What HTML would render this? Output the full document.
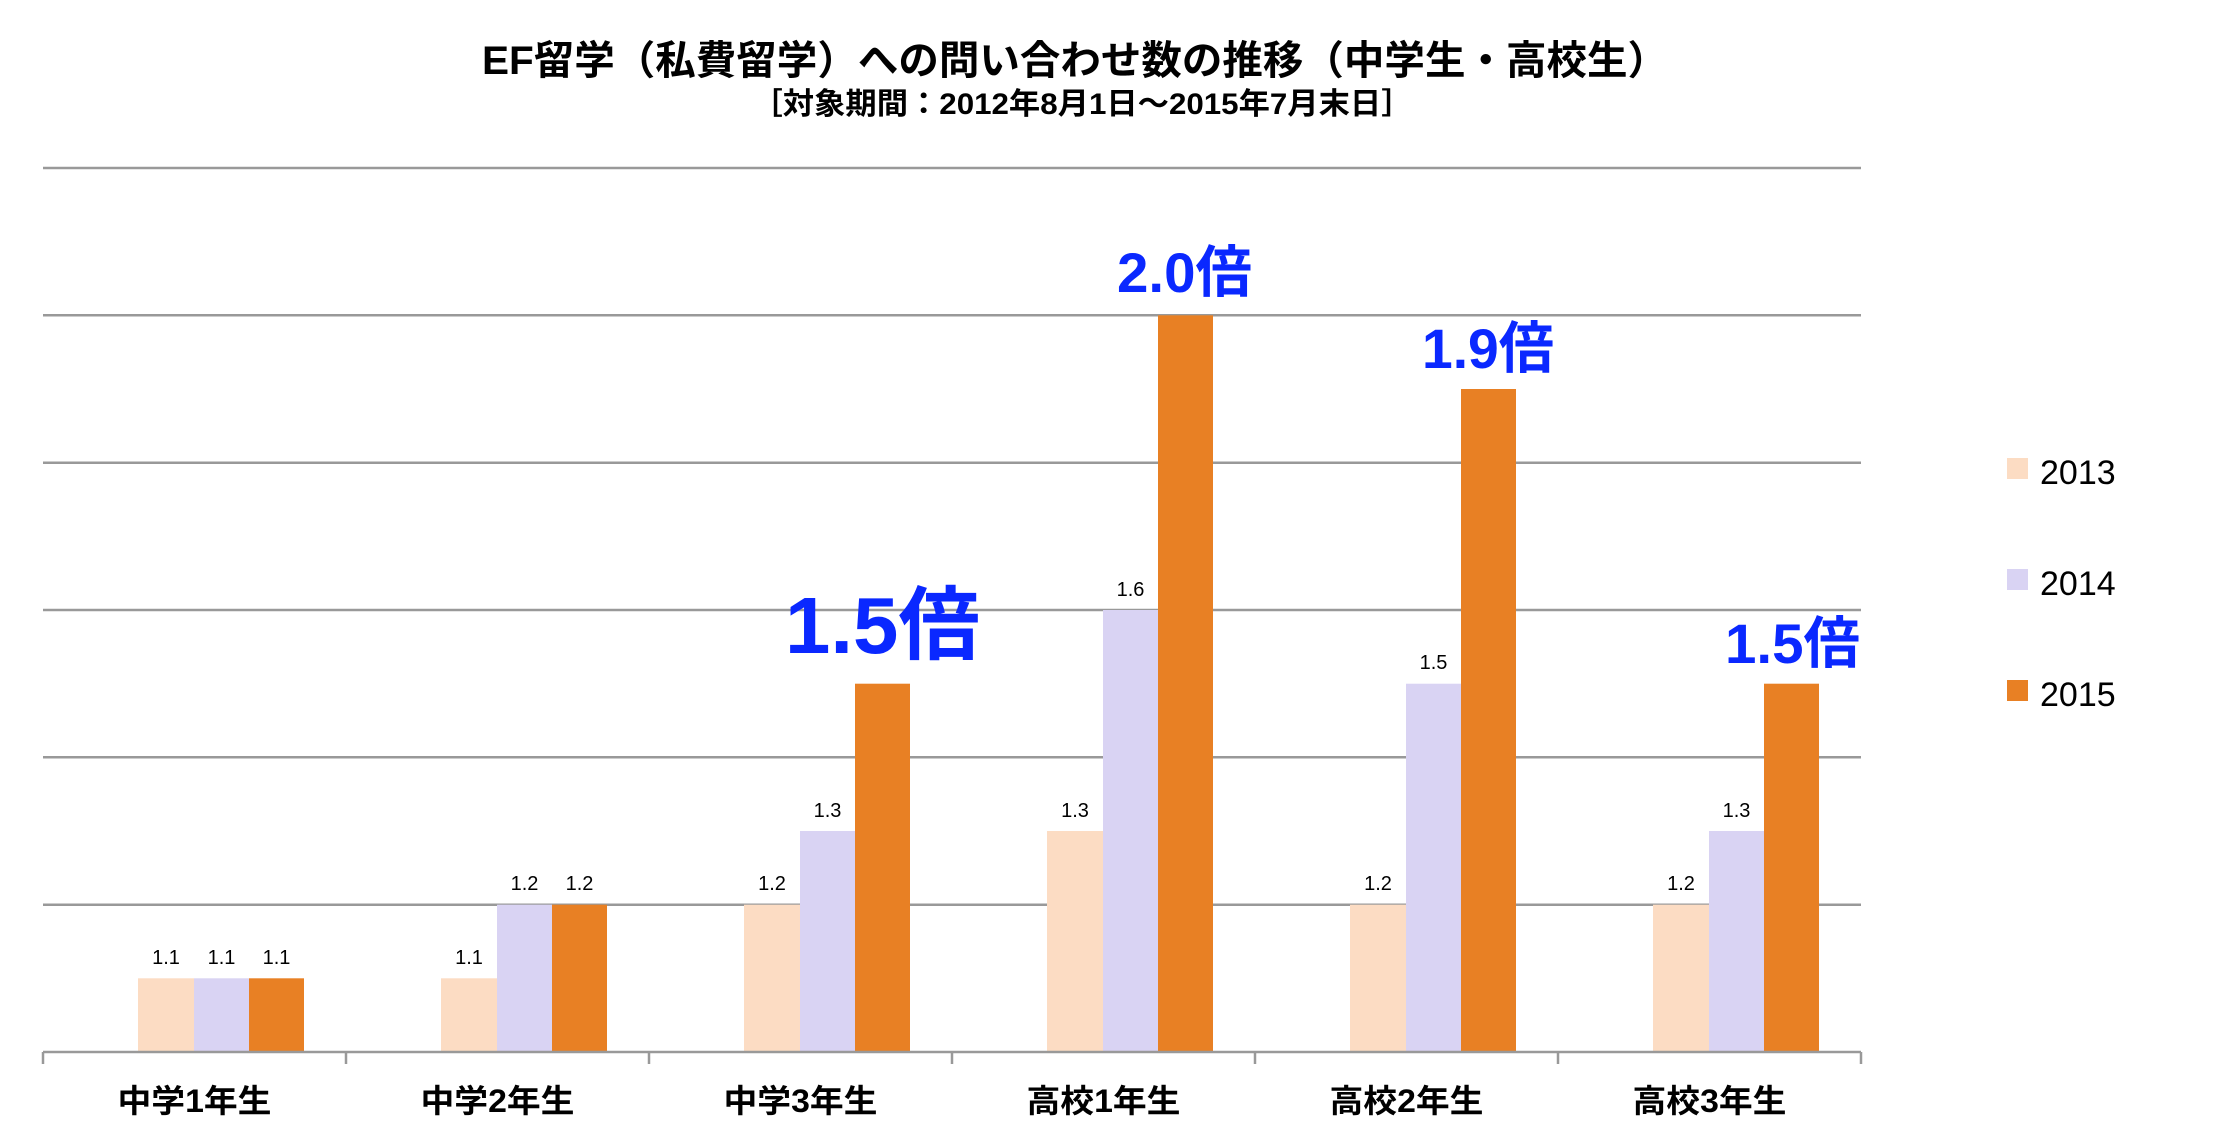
<!DOCTYPE html>
<html><head><meta charset="utf-8"><style>html,body{margin:0;padding:0;background:#fff}svg{display:block}</style></head>
<body>
<svg width="2236" height="1144" viewBox="0 0 2236 1144" xmlns="http://www.w3.org/2000/svg" font-family="'Liberation Sans','Noto Sans CJK JP',sans-serif">
<rect width="2236" height="1144" fill="#fff"/>
<text x="1075" y="74" font-size="40" font-weight="bold" text-anchor="middle" textLength="1186" lengthAdjust="spacingAndGlyphs">EF留学（私費留学）への問い合わせ数の推移（中学生・高校生）</text>
<text x="1082" y="114" font-size="30" font-weight="bold" text-anchor="middle" textLength="661" lengthAdjust="spacingAndGlyphs">［対象期間：2012年8月1日～2015年7月末日］</text>
<g stroke="#999" stroke-width="2.5">
<line x1="43" y1="168" x2="1861" y2="168"/>
<line x1="43" y1="315.3" x2="1861" y2="315.3"/>
<line x1="43" y1="462.7" x2="1861" y2="462.7"/>
<line x1="43" y1="610" x2="1861" y2="610"/>
<line x1="43" y1="757.3" x2="1861" y2="757.3"/>
<line x1="43" y1="904.7" x2="1861" y2="904.7"/>
</g>
<g>
<rect x="138" y="978.3" width="56" height="73.7" fill="#fcdcc3"/><rect x="194" y="978.3" width="55" height="73.7" fill="#d9d3f3"/><rect x="249" y="978.3" width="55" height="73.7" fill="#e88024"/>
<rect x="441" y="978.3" width="56" height="73.7" fill="#fcdcc3"/><rect x="497" y="904.7" width="55" height="147.3" fill="#d9d3f3"/><rect x="552" y="904.7" width="55" height="147.3" fill="#e88024"/>
<rect x="744" y="904.7" width="56" height="147.3" fill="#fcdcc3"/><rect x="800" y="831" width="55" height="221" fill="#d9d3f3"/><rect x="855" y="683.7" width="55" height="368.3" fill="#e88024"/>
<rect x="1047" y="831" width="56" height="221" fill="#fcdcc3"/><rect x="1103" y="610" width="55" height="442" fill="#d9d3f3"/><rect x="1158" y="315.3" width="55" height="736.7" fill="#e88024"/>
<rect x="1350" y="904.7" width="56" height="147.3" fill="#fcdcc3"/><rect x="1406" y="683.7" width="55" height="368.3" fill="#d9d3f3"/><rect x="1461" y="389" width="55" height="663" fill="#e88024"/>
<rect x="1653" y="904.7" width="56" height="147.3" fill="#fcdcc3"/><rect x="1709" y="831" width="55" height="221" fill="#d9d3f3"/><rect x="1764" y="683.7" width="55" height="368.3" fill="#e88024"/>
</g>
<g stroke="#999" stroke-width="2.5">
<line x1="43" y1="1052" x2="1861" y2="1052"/>
<line x1="43" y1="1052" x2="43" y2="1064"/><line x1="346" y1="1052" x2="346" y2="1064"/><line x1="649" y1="1052" x2="649" y2="1064"/><line x1="952" y1="1052" x2="952" y2="1064"/><line x1="1255" y1="1052" x2="1255" y2="1064"/><line x1="1558" y1="1052" x2="1558" y2="1064"/><line x1="1861" y1="1052" x2="1861" y2="1064"/>
</g>
<g font-size="20" text-anchor="middle" fill="#000">
<text x="166" y="964">1.1</text><text x="221.5" y="964">1.1</text><text x="276.5" y="964">1.1</text>
<text x="469" y="964">1.1</text><text x="524.5" y="890">1.2</text><text x="579.5" y="890">1.2</text>
<text x="772" y="890">1.2</text><text x="827.5" y="817">1.3</text>
<text x="1075" y="817">1.3</text><text x="1130.5" y="596">1.6</text>
<text x="1378" y="890">1.2</text><text x="1433.5" y="669">1.5</text>
<text x="1681" y="890">1.2</text><text x="1736.5" y="817">1.3</text>
</g>
<g font-size="32" font-weight="bold" text-anchor="middle" fill="#000">
<text x="194.5" y="1112" textLength="154" lengthAdjust="spacingAndGlyphs">中学1年生</text>
<text x="497.5" y="1112" textLength="154" lengthAdjust="spacingAndGlyphs">中学2年生</text>
<text x="800.5" y="1112" textLength="154" lengthAdjust="spacingAndGlyphs">中学3年生</text>
<text x="1103.5" y="1112" textLength="154" lengthAdjust="spacingAndGlyphs">高校1年生</text>
<text x="1406.5" y="1112" textLength="154" lengthAdjust="spacingAndGlyphs">高校2年生</text>
<text x="1709.5" y="1112" textLength="154" lengthAdjust="spacingAndGlyphs">高校3年生</text>
</g>
<g fill="#0a28ff" font-weight="bold">
<text x="785" y="653" font-size="80" textLength="195" lengthAdjust="spacingAndGlyphs">1.5倍</text>
<text x="1117" y="292" font-size="56" textLength="135" lengthAdjust="spacingAndGlyphs">2.0倍</text>
<text x="1422" y="368" font-size="56" textLength="132" lengthAdjust="spacingAndGlyphs">1.9倍</text>
<text x="1725" y="663" font-size="56" textLength="135" lengthAdjust="spacingAndGlyphs">1.5倍</text>
</g>
<rect x="2007" y="458" width="21" height="21" fill="#fcdcc3"/>
<rect x="2007" y="569" width="21" height="21" fill="#d9d3f3"/>
<rect x="2007" y="680" width="21" height="21" fill="#e88024"/>
<g font-size="34" fill="#000">
<text x="2040" y="484">2013</text>
<text x="2040" y="595">2014</text>
<text x="2040" y="706">2015</text>
</g>
</svg>
</body></html>
